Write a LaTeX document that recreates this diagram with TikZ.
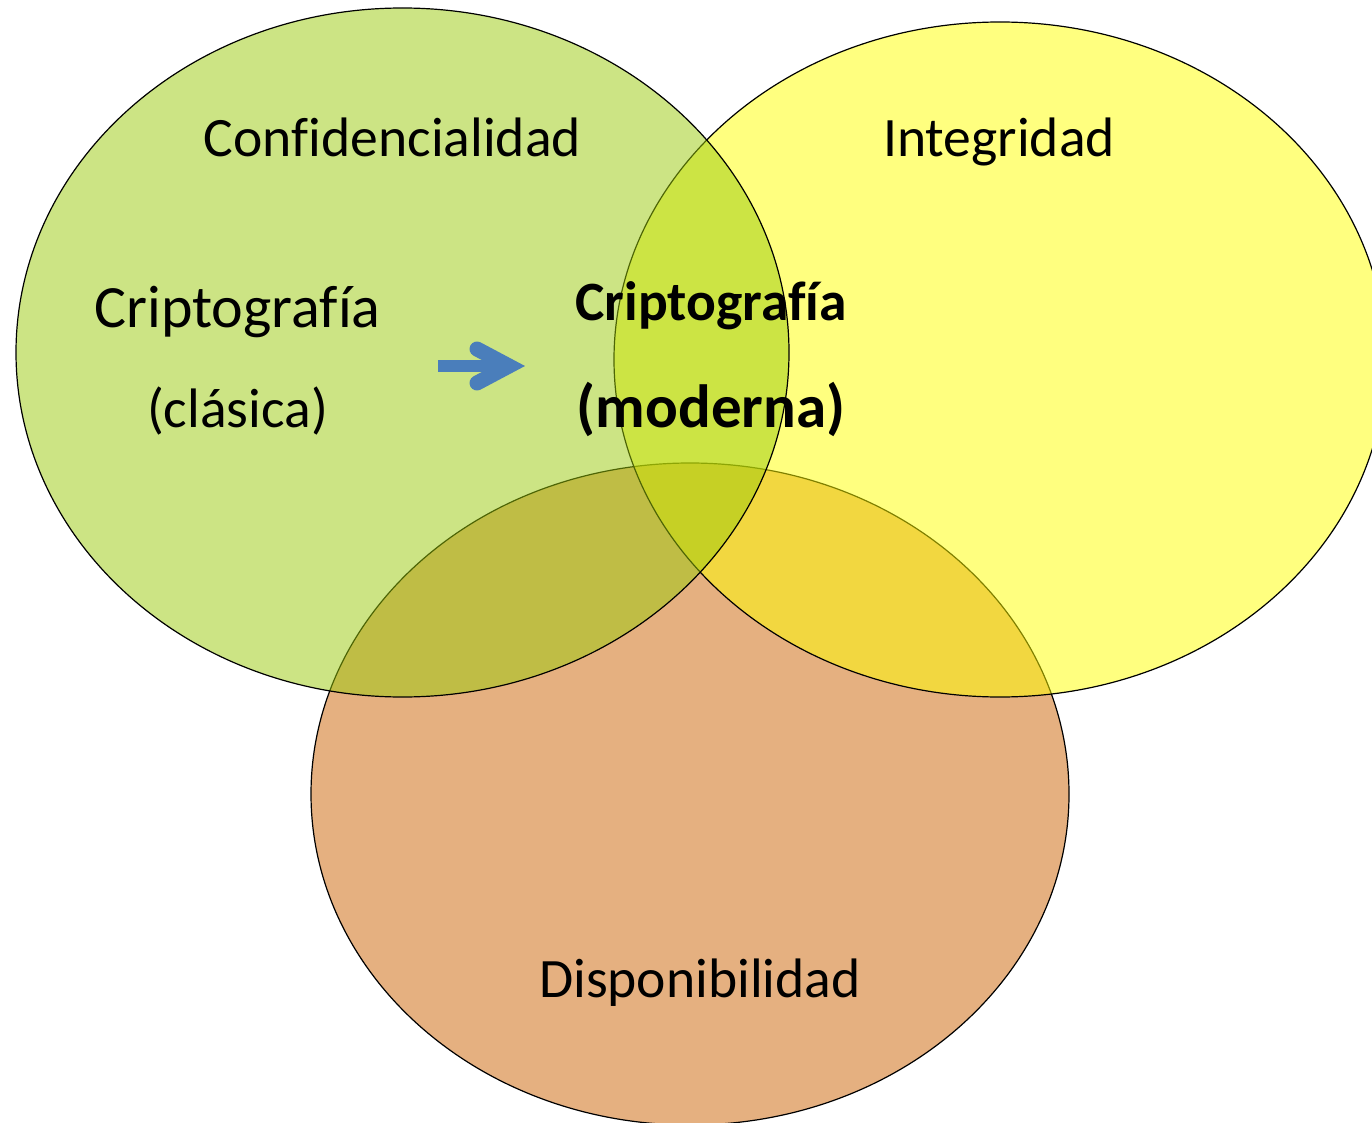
\documentclass[tikz,border=0pt]{standalone}
\usepackage{fontspec}
\setmainfont[Ligatures=NoCommon]{Carlito}
\definecolor{cgreen}{RGB}{155,202,11}
\definecolor{cyellow}{RGB}{255,255,1}
\definecolor{corange}{RGB}{205,99,3}
\definecolor{carrow}{RGB}{74,126,187}
\begin{document}
\begin{tikzpicture}[x=1pt,y=-1pt,
  venn/.style={draw=black,line width=1.2pt,fill opacity=0.5},
  lbl/.style={inner sep=0pt,anchor=base,font=\fontsize{55.6}{60}\selectfont},
  lblbig/.style={inner sep=0pt,anchor=base,font=\fontsize{60}{64}\selectfont},
  boldlbl/.style={inner sep=0pt,anchor=base,font=\bfseries\fontsize{55.5}{60}\selectfont},
  boldbig/.style={inner sep=0pt,anchor=base,font=\bfseries\fontsize{61}{66}\selectfont}]
\useasboundingbox (0,0) rectangle (1372,1123);
\fill[white] (0,0) rectangle (1372,1123);
\begin{scope}
\clip (0,0) rectangle (1372,1123);
\draw[venn,fill=corange] (690,794) ellipse [x radius=379, y radius=331];
\draw[venn,fill=cyellow] (1000,359.5) ellipse [x radius=386, y radius=337.5];
\draw[venn,fill=cgreen] (402.5,352.5) ellipse [x radius=386.5, y radius=344.5];
\end{scope}
\node[lbl] (conf) at (392.5,157) {Confidencialidad};
\node[lbl] (integ) at (999,157) {Integridad};
\node[lbl] (disp) at (700,997) {Disponibilidad};
\node[lblbig] (clas1) at (237.5,327) {Criptografía};
\node[lbl] (clas2) at (237.5,427) {(clásica)};
\node[boldlbl] (mod1) at (711,320) {Criptografía};
\node[boldbig] (mod2) at (711,427) {(moderna)};
\coordinate (ashaft0) at (438,366);
\coordinate (ashaft1) at (505,366);
\coordinate (ahead1) at (477,349);
\coordinate (atip) at (509,366);
\coordinate (ahead2) at (477,383);
\draw[carrow,line width=12pt] (ashaft0) -- (ashaft1);
\draw[carrow,line width=15pt,line cap=round,line join=miter,miter limit=10] (ahead1) -- (atip) -- (ahead2);
\end{tikzpicture}
\end{document}
